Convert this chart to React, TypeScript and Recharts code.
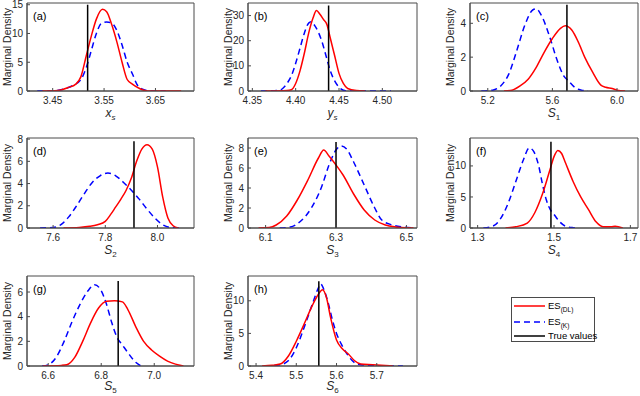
import { LineChart, Line, XAxis, YAxis, ReferenceArea } from 'recharts';

type Pt = [number, number];

// (a) x_s
const xsDL: Pt[] = [[3.43, 0], [3.46, 0.1], [3.48, 0.6], [3.495, 1.2], [3.505, 2.5], [3.515, 6], [3.525, 9.5], [3.535, 12.5], [3.547, 14.2], [3.555, 13.8], [3.565, 11.5], [3.575, 8.5], [3.585, 5], [3.595, 2], [3.605, 1.2], [3.62, 0.4], [3.635, 0], [3.70, 0]];
const xsK: Pt[] = [[3.42, 0], [3.45, 0], [3.47, 0.3], [3.49, 1], [3.505, 2], [3.515, 4], [3.525, 7], [3.535, 10], [3.545, 11.8], [3.555, 12], [3.565, 11.8], [3.575, 10.5], [3.585, 8], [3.595, 5], [3.605, 3], [3.615, 1], [3.625, 0.3], [3.64, 0], [3.67, 0]];
const xsTrue = 3.518;

// (b) y_s
const ysDL: Pt[] = [[4.365, 0], [4.39, 0.2], [4.395, 0.5], [4.40, 3], [4.405, 8], [4.41, 15], [4.415, 23], [4.42, 29], [4.424, 32], [4.428, 30.5], [4.432, 28.5], [4.436, 26.5], [4.44, 21], [4.445, 14], [4.45, 7], [4.455, 3], [4.46, 1], [4.47, 0.2], [4.48, 0]];
const ysK: Pt[] = [[4.36, 0], [4.38, 0.2], [4.385, 1], [4.39, 3], [4.395, 6], [4.40, 11], [4.405, 17], [4.41, 23], [4.415, 27], [4.418, 27.5], [4.422, 26], [4.43, 20], [4.435, 14], [4.44, 8], [4.445, 4], [4.45, 1.5], [4.455, 0.3], [4.46, 0], [4.51, 0]];
const ysTrue = 4.438;

// (c) S1
const s1DL: Pt[] = [[5.3, 0], [5.35, 0.05], [5.4, 0.3], [5.45, 0.7], [5.5, 1.4], [5.55, 2.3], [5.6, 3.1], [5.65, 3.7], [5.68, 3.85], [5.72, 3.6], [5.76, 2.9], [5.8, 2.0], [5.85, 1.1], [5.9, 0.35], [5.93, 0.22], [5.97, 0.15], [6.0, 0.05], [6.05, 0]];
const s1K: Pt[] = [[5.16, 0], [5.23, 0.05], [5.28, 0.3], [5.33, 1.0], [5.38, 2.4], [5.43, 3.9], [5.48, 4.8], [5.50, 4.85], [5.53, 4.5], [5.58, 3.3], [5.63, 1.8], [5.67, 0.9], [5.70, 0.6], [5.74, 0.2], [5.78, 0.05], [5.82, 0]];
const s1True = 5.69;

// (d) S2
const s2DL: Pt[] = [[7.64, 0], [7.70, 0.05], [7.74, 0.15], [7.77, 0.3], [7.80, 0.6], [7.82, 1.2], [7.84, 1.9], [7.86, 2.6], [7.88, 3.4], [7.90, 4.5], [7.92, 6.0], [7.94, 7.1], [7.96, 7.5], [7.98, 7.1], [8.00, 5.5], [8.02, 2.8], [8.04, 0.9], [8.06, 0.2], [8.08, 0]];
const s2K: Pt[] = [[7.55, 0], [7.60, 0.05], [7.63, 0.3], [7.66, 1.0], [7.69, 2.0], [7.72, 3.1], [7.75, 4.1], [7.78, 4.7], [7.81, 4.95], [7.84, 4.7], [7.87, 4.1], [7.90, 3.4], [7.93, 2.6], [7.96, 1.7], [7.99, 0.9], [8.02, 0.3], [8.05, 0.05], [8.09, 0]];
const s2True = 7.91;

// (e) S3
const s3DL: Pt[] = [[6.08, 0], [6.11, 0.05], [6.13, 0.3], [6.16, 1.2], [6.19, 2.8], [6.22, 4.8], [6.25, 7.0], [6.265, 7.8], [6.28, 7.2], [6.30, 6.3], [6.32, 5.3], [6.35, 3.4], [6.38, 1.8], [6.41, 0.8], [6.44, 0.3], [6.47, 0.1], [6.50, 0.02], [6.52, 0]];
const s3K: Pt[] = [[6.14, 0], [6.17, 0.1], [6.20, 0.7], [6.23, 2.0], [6.26, 4.2], [6.28, 6.3], [6.30, 7.8], [6.315, 8.2], [6.33, 7.9], [6.35, 6.6], [6.38, 4.3], [6.41, 2.0], [6.43, 0.8], [6.46, 0.3], [6.49, 0.1], [6.52, 0]];
const s3True = 6.30;

// (f) S4
const s4DL: Pt[] = [[1.373, 0], [1.40, 0.2], [1.43, 0.8], [1.45, 2.5], [1.47, 5.5], [1.49, 9.5], [1.50, 11.5], [1.51, 12.5], [1.52, 12.0], [1.53, 10.5], [1.55, 7.5], [1.57, 5.0], [1.59, 3.0], [1.61, 1.0], [1.63, 0.2], [1.65, 0.2], [1.66, 0.3], [1.68, 0]];
const s4K: Pt[] = [[1.315, 0], [1.34, 0.3], [1.36, 1.5], [1.38, 4], [1.40, 7.5], [1.42, 11], [1.435, 12.9], [1.445, 12.5], [1.46, 10], [1.47, 7], [1.48, 4.5], [1.49, 3], [1.50, 2.2], [1.515, 1.0], [1.53, 0.3], [1.55, 0.05], [1.56, 0]];
const s4True = 1.492;

// (g) S5
const s5DL: Pt[] = [[6.58, 0], [6.65, 0.05], [6.67, 0.1], [6.70, 0.7], [6.73, 2.0], [6.76, 3.5], [6.79, 4.7], [6.82, 5.25], [6.85, 5.3], [6.88, 5.2], [6.90, 4.6], [6.93, 3.2], [6.96, 2.0], [6.99, 1.3], [7.02, 0.8], [7.05, 0.4], [7.08, 0.15], [7.11, 0]];
const s5K: Pt[] = [[6.577, 0], [6.60, 0.1], [6.63, 0.7], [6.66, 2.0], [6.69, 3.6], [6.72, 5.0], [6.75, 6.1], [6.775, 6.6], [6.80, 6.1], [6.82, 5.0], [6.84, 3.5], [6.86, 2.3], [6.88, 1.7], [6.90, 1.1], [6.93, 0.3], [6.95, 0]];
const s5True = 6.864;

// (h) S6
const s6DL: Pt[] = [[5.415, 0], [5.44, 0.1], [5.46, 0.3], [5.48, 1.5], [5.50, 3.8], [5.52, 6.5], [5.54, 9.3], [5.555, 11], [5.565, 11.7], [5.575, 10.5], [5.585, 7.5], [5.60, 4.0], [5.615, 2.6], [5.63, 1.8], [5.645, 0.8], [5.66, 0.3], [5.69, 0.2], [5.74, 0]];
const s6K: Pt[] = [[5.42, 0], [5.46, 0.2], [5.48, 0.8], [5.50, 2.8], [5.52, 6], [5.54, 9.5], [5.555, 12], [5.56, 12.6], [5.57, 11.5], [5.58, 9.5], [5.59, 7], [5.60, 5], [5.615, 3], [5.63, 1.5], [5.645, 0.5], [5.66, 0.2], [5.70, 0.05], [5.765, 0]];
const s6True = 5.556;

const tags = ['(a)', '(b)', '(c)', '(d)', '(e)', '(f)', '(g)', '(h)'];
const symbols: [string, string, boolean][] = [['x', 's', true], ['y', 's', true], ['S', '1', false], ['S', '2', false], ['S', '3', false], ['S', '4', false], ['S', '5', false], ['S', '6', false]];
const xDomains: [number, number][] = [[3.40, 3.725], [4.345, 4.54], [5.09, 6.13], [7.5, 8.14], [6.05, 6.53], [1.28, 1.72], [6.52, 7.15], [5.38, 5.80]];
const xTicks = [[3.45, 3.55, 3.65], [4.35, 4.40, 4.45, 4.50], [5.2, 5.6, 6.0], [7.6, 7.8, 8.0], [6.1, 6.3, 6.5], [1.3, 1.5, 1.7], [6.6, 6.8, 7.0], [5.4, 5.5, 5.6, 5.7]];
const xDecimals = [2, 2, 1, 1, 1, 1, 1, 1];
const yMax = [15.3, 35, 5.2, 8.1, 9, 14.5, 7.3, 13.8];
const yTicks = [[0, 5, 10, 15], [0, 10, 20, 30], [0, 2, 4], [0, 2, 4, 6, 8], [0, 2, 4, 6, 8], [0, 5, 10], [0, 2, 4, 6], [0, 5, 10]];
const trueTop = [15, 34, 5.1, 7.8, 8.6, 13.9, 6.9, 13];
const dlSeries = [xsDL, ysDL, s1DL, s2DL, s3DL, s4DL, s5DL, s6DL];
const kSeries = [xsK, ysK, s1K, s2K, s3K, s4K, s5K, s6K];
const truths = [xsTrue, ysTrue, s1True, s2True, s3True, s4True, s5True, s6True];

const colLeft = [27, 248, 470];
const colWidth = [167, 169, 168];
const rowTop = [3, 138, 276];
const rowHeight = [88, 90, 90];

const INK = '#262626';
const AXIS = '#4a4a4a';
const FONT = 'Liberation Sans, Arial, sans-serif';

const rows = (pts: Pt[]) => pts.map(([x, y]) => ({ x, y }));

function Panel({ i }: { i: number }) {
  const col = i % 3;
  const row = Math.floor(i / 3);
  const w = colWidth[col];
  const h = rowHeight[row];
  const ML = 40;
  const MT = 6;
  const AXH = 30;
  const [sym, sub, italicSub] = symbols[i];
  const dom = xDomains[i];
  const labelY = row === 2 ? 24 : 26;

  return (
    <div style={{ position: 'absolute', left: colLeft[col] - ML, top: rowTop[row] - MT }}>
      <LineChart
        width={ML + w + 4}
        height={MT + h + AXH}
        margin={{ top: MT, right: 4, bottom: 0, left: ML - 30 }}
        style={{ fontFamily: FONT }}
      >
        <XAxis
          type="number"
          dataKey="x"
          domain={dom}
          ticks={xTicks[i]}
          allowDataOverflow
          interval={0}
          tickFormatter={(v: number) => v.toFixed(xDecimals[i])}
          stroke={AXIS}
          tickSize={-3}
          tickMargin={8.5}
          height={AXH}
          tick={{ fontSize: 10, fill: INK }}
          label={(props: any) => {
            const vb = props.viewBox;
            return (
              <text x={vb.x + vb.width / 2} y={vb.y + labelY} textAnchor="middle" fill={INK} fontFamily={FONT}>
                <tspan fontSize={12} fontStyle="italic">{sym}</tspan>
                <tspan fontSize={8} dy={2.5} fontStyle={italicSub ? 'italic' : 'normal'}>{sub}</tspan>
              </text>
            );
          }}
        />
        <YAxis
          type="number"
          domain={[0, yMax[i]]}
          ticks={yTicks[i]}
          allowDataOverflow
          interval={0}
          width={30}
          stroke={AXIS}
          tickSize={-3}
          tickMargin={7}
          tick={{ fontSize: 10, fill: INK }}
          label={(props: any) => {
            const vb = props.viewBox;
            const cx = vb.x + vb.width - 20;
            const cy = vb.y + vb.height / 2;
            return (
              <text x={cx} y={cy} textAnchor="middle" dominantBaseline="central" transform={`rotate(-90 ${cx} ${cy})`} fontSize={10.5} fill={INK} fontFamily={FONT}>
                Marginal Density
              </text>
            );
          }}
        />
        <ReferenceArea
          x1={dom[0]}
          x2={dom[1]}
          y1={0}
          y2={yMax[i]}
          fill="none"
          stroke={AXIS}
          strokeWidth={1}
          label={(props: any) => {
            const vb = props.viewBox;
            return (
              <text x={vb.x + 6} y={vb.y + 17} fontSize={11} fill="#000" fontFamily={FONT}>
                {tags[i]}
              </text>
            );
          }}
        />
        <Line data={rows(kSeries[i])} dataKey="y" type="monotone" stroke="#0000ff" strokeWidth={1.5} strokeDasharray="6 4" dot={false} isAnimationActive={false} />
        <Line data={rows(dlSeries[i])} dataKey="y" type="monotone" stroke="#ff0000" strokeWidth={1.5} dot={false} isAnimationActive={false} />
        <Line data={[{ x: truths[i], y: 0 }, { x: truths[i], y: trueTop[i] }]} dataKey="y" type="linear" stroke="#000" strokeWidth={1.5} dot={false} isAnimationActive={false} />
      </LineChart>
    </div>
  );
}

function LegendBox() {
  return (
    <svg width={90} height={50} style={{ position: 'absolute', left: 508, top: 294 }}>
      <rect x={3.5} y={3.5} width={83} height={44} fill="#fff" stroke={AXIS} strokeWidth={1} />
      <line x1={6} x2={37} y1={12} y2={12} stroke="#ff0000" strokeWidth={1.5} />
      <line x1={6} x2={37} y1={28} y2={28} stroke="#0000ff" strokeWidth={1.5} strokeDasharray="6 4" />
      <line x1={6} x2={37} y1={42} y2={42} stroke="#000" strokeWidth={1.5} />
      <text x={40} y={15} fontSize={9.5} fill="#000" fontFamily={FONT}>
        ES<tspan fontSize={6.5} dy={3}>(DL)</tspan>
      </text>
      <text x={40} y={31} fontSize={9.5} fill="#000" fontFamily={FONT}>
        ES<tspan fontSize={6.5} dy={3}>(K)</tspan>
      </text>
      <text x={40} y={45} fontSize={9.5} fill="#000" fontFamily={FONT}>
        True values
      </text>
    </svg>
  );
}

export default function App() {
  return (
    <div style={{ position: 'absolute', left: 0, top: 0, width: 640, height: 396, background: '#fff', fontFamily: FONT }}>
      {tags.map((_, i) => (
        <Panel key={i} i={i} />
      ))}
      <LegendBox />
    </div>
  );
}
